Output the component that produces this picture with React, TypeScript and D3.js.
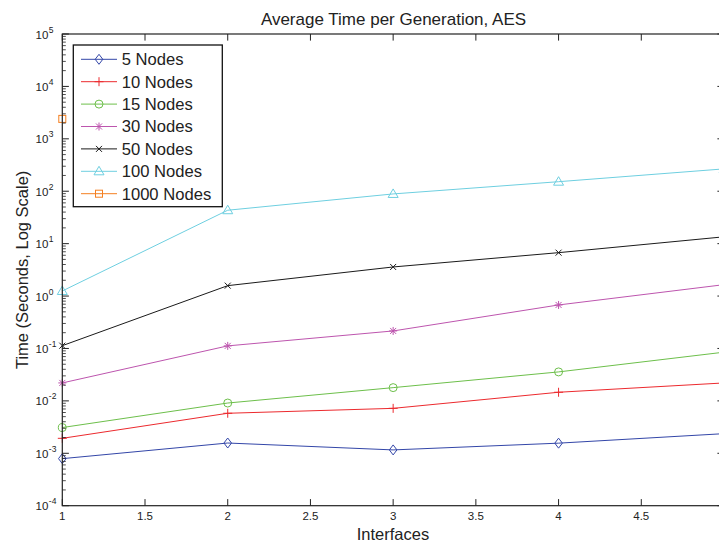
import React from "react";
import * as d3 from "d3";

const interfaces = [1, 2, 3, 4, 5];
const nodes5 = [7.9e-4, 1.57e-3, 1.16e-3, 1.56e-3, 2.37e-3];
const nodes10 = [1.93e-3, 5.8e-3, 7.2e-3, 1.46e-2, 2.2e-2];
const nodes15 = [3.1e-3, 9.1e-3, 1.79e-2, 3.57e-2, 8.5e-2];
const nodes30 = [2.2e-2, 0.112, 0.216, 0.676, 1.65];
const nodes50 = [0.113, 1.58, 3.59, 6.73, 13.5];
const nodes100 = [1.25, 43.4, 88.8, 152, 267];
const nodes1000 = [2400];

const seriesNames = ["5 Nodes", "10 Nodes", "15 Nodes", "30 Nodes", "50 Nodes", "100 Nodes", "1000 Nodes"];
const seriesValues = [nodes5, nodes10, nodes15, nodes30, nodes50, nodes100, nodes1000];
const seriesColors = ["#3346a8", "#ec2a2e", "#6dbf4b", "#bd55ae", "#1a1a1a", "#6ecfe0", "#f47f20"];
const seriesMarkers = ["diamond", "plus", "circle", "asterisk", "x", "triangle", "square"];

const xTicks = [1, 1.5, 2, 2.5, 3, 3.5, 4, 4.5, 5];
const yExponents = [-4, -3, -2, -1, 0, 1, 2, 3, 4, 5];

const W = 719;
const H = 544;
const left = 62.3;
const right = 724;
const top = 34;
const bottom = 505.7;

const x = d3.scaleLinear().domain([1, 5]).range([left, right]);
const y = d3.scaleLog().domain([1e-4, 1e5]).range([bottom, top]);

function Marker({ type, cx, cy, color }: { type: string; cx: number; cy: number; color: string }) {
  const common = { fill: "none", stroke: color, strokeWidth: 1 };
  switch (type) {
    case "diamond":
      return <path d={`M${cx},${cy - 5}L${cx + 3.8},${cy}L${cx},${cy + 5}L${cx - 3.8},${cy}Z`} {...common} />;
    case "plus":
      return <path d={`M${cx - 4.5},${cy}H${cx + 4.5}M${cx},${cy - 4.5}V${cy + 4.5}`} {...common} />;
    case "circle":
      return <circle cx={cx} cy={cy} r={4} {...common} />;
    case "asterisk":
      return (
        <path
          d={`M${cx - 4},${cy}H${cx + 4}M${cx},${cy - 4}V${cy + 4}M${cx - 3},${cy - 3}L${cx + 3},${cy + 3}M${cx - 3},${cy + 3}L${cx + 3},${cy - 3}`}
          {...common}
        />
      );
    case "x":
      return <path d={`M${cx - 3},${cy - 3}L${cx + 3},${cy + 3}M${cx - 3},${cy + 3}L${cx + 3},${cy - 3}`} {...common} />;
    case "triangle":
      return <path d={`M${cx},${cy - 5}L${cx + 5},${cy + 3.5}L${cx - 5},${cy + 3.5}Z`} {...common} />;
    case "square":
      return <rect x={cx - 3.5} y={cy - 3.5} width={7} height={7} {...common} />;
    default:
      return null;
  }
}

export default function App() {
  const line = d3
    .line<number>()
    .x((_, i) => x(interfaces[i]))
    .y((d) => y(d));

  const minorTicks: number[] = [];
  for (let e = -4; e < 5; e++) {
    for (let m = 2; m <= 9; m++) minorTicks.push(m * Math.pow(10, e));
  }

  const font = "Liberation Sans, Arial, Helvetica, sans-serif";
  const axisColor = "#222";
  const majorLen = 6.6;
  const minorLen = 3.5;

  const legX = 73.3;
  const legY = 45;
  const legW = 149;
  const legH = 161.7;
  const legRowY = (i: number) => 59.3 + i * 22.4;

  return (
    <svg
      width={W}
      height={H}
      style={{ position: "absolute", left: 0, top: 0, background: "#fff" }}
      fontFamily={font}
    >
      <rect x={0} y={0} width={W} height={H} fill="#fff" />
      {/* title */}
      <text x={393.5} y={25} textAnchor="middle" fontSize={17} fill="#222">
        Average Time per Generation, AES
      </text>

      {/* data lines */}
      <g>
        {seriesValues.map((vals, si) => (
          <g key={si}>
            {vals.length > 1 && (
              <path d={line(vals) || ""} fill="none" stroke={seriesColors[si]} strokeWidth={1} />
            )}
            {vals.map((v, i) => (
              <Marker key={i} type={seriesMarkers[si]} cx={x(interfaces[i])} cy={y(v)} color={seriesColors[si]} />
            ))}
          </g>
        ))}
      </g>

      {/* axes box */}
      <rect x={left} y={top} width={right - left} height={bottom - top} fill="none" stroke={axisColor} strokeWidth={1.2} />

      {/* x ticks */}
      {xTicks.map((t) => (
        <g key={t}>
          <line x1={x(t)} x2={x(t)} y1={bottom} y2={bottom - majorLen} stroke={axisColor} />
          <line x1={x(t)} x2={x(t)} y1={top} y2={top + majorLen} stroke={axisColor} />
          {x(t) + 6 < W && (
            <text x={x(t)} y={520} textAnchor="middle" fontSize={11.5} fill="#222">
              {String(t)}
            </text>
          )}
        </g>
      ))}

      {/* y major ticks */}
      {yExponents.map((e) => {
        const yy = y(Math.pow(10, e));
        return (
          <g key={e}>
            <line x1={left} x2={left + majorLen} y1={yy} y2={yy} stroke={axisColor} />
            <line x1={right} x2={right - majorLen} y1={yy} y2={yy} stroke={axisColor} />
            <text x={48.3} y={yy + 4.5} textAnchor="end" fontSize={11.5} fill="#222">
              10
            </text>
            <text x={48.8} y={yy - 1.5} textAnchor="start" fontSize={8.5} fill="#222">
              {String(e)}
            </text>
          </g>
        );
      })}
      {/* y minor ticks */}
      {minorTicks.map((t, i) => (
        <g key={i}>
          <line x1={left} x2={left + minorLen} y1={y(t)} y2={y(t)} stroke={axisColor} strokeWidth={0.8} />
          <line x1={right} x2={right - minorLen} y1={y(t)} y2={y(t)} stroke={axisColor} strokeWidth={0.8} />
        </g>
      ))}

      {/* axis labels */}
      <text x={393} y={539.5} textAnchor="middle" fontSize={16.5} fill="#222">
        Interfaces
      </text>
      <text
        transform={`translate(27.5, ${(top + bottom) / 2}) rotate(-90)`}
        textAnchor="middle"
        fontSize={16.5}
        fill="#222"
      >
        Time (Seconds, Log Scale)
      </text>

      {/* legend */}
      <rect x={legX} y={legY} width={legW} height={legH} fill="#fff" stroke="#111" strokeWidth={1.3} />
      {seriesNames.map((name, i) => {
        const ry = legRowY(i);
        return (
          <g key={name}>
            <line x1={81} x2={117} y1={ry} y2={ry} stroke={seriesColors[i]} strokeWidth={1} />
            <Marker type={seriesMarkers[i]} cx={99} cy={ry} color={seriesColors[i]} />
            <text x={121.7} y={ry + 5.8} fontSize={16.6} fill="#222">
              {name}
            </text>
          </g>
        );
      })}
    </svg>
  );
}
